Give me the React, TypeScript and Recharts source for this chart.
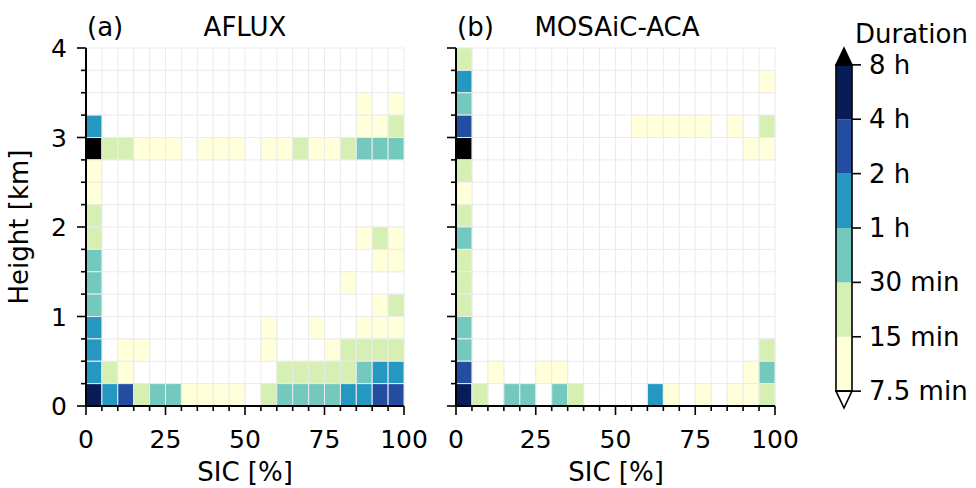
import React from 'react';
import { ComposedChart, XAxis, YAxis, CartesianGrid, ReferenceArea, Scatter } from 'recharts';

// bin edges of the two histograms
const SIC_EDGES = [0, 5, 10, 15, 20, 25, 30, 35, 40, 45, 50, 55, 60, 65, 70, 75, 80, 85, 90, 95, 100];
const HEIGHT_EDGES = [0, 0.25, 0.5, 0.75, 1, 1.25, 1.5, 1.75, 2, 2.25, 2.5, 2.75, 3, 3.25, 3.5, 3.75, 4];
const SIC_LABELS = [0, 25, 50, 75, 100];
const HEIGHT_LABELS = [0, 1, 2, 3, 4];

const DURATION_LABELS = ['7.5 min', '15 min', '30 min', '1 h', '2 h', '4 h', '8 h'];
const DURATION_COLORS = ['#ffffd9', '#d6efb3', '#73c9bd', '#2498c1', '#234da0', '#081d58'];
const OVER_COLOR = '#000000';
const UNDER_COLOR = '#ffffff';

// duration class of every cell, top row = 3.75-4 km, bottom row = 0-0.25 km, columns = 5 % SIC bins
// 0 nothing, 1 7.5-15 min, 2 15-30 min, 3 30 min-1 h, 4 1-2 h, 5 2-4 h, 6 4-8 h, 7 > 8 h
const AFLUX_ROWS = [
  '00000000000000000000',
  '00000000000000000000',
  '00000000000000000101',
  '40000000000000000112',
  '72211101110112112333',
  '10000000000000000000',
  '10000000000000000000',
  '20000000000000000000',
  '20000000000000000121',
  '30000000000000000011',
  '30000000000000001000',
  '30000000000000000012',
  '40000000000100100111',
  '40110000000100012222',
  '42100000000022222344',
  '64523311110233334455',
];

const MOSAIC_ROWS = [
  '20000000000000000000',
  '40000000000000000001',
  '30000000000000000000',
  '50000000000111110102',
  '70000000000000000011',
  '20000000000000000000',
  '10000000000000000000',
  '20000000000000000000',
  '30000000000000000000',
  '20000000000000000000',
  '20000000000000000000',
  '20000000000000000000',
  '30000000000000000000',
  '30000000000000000002',
  '50100110000000000013',
  '62033032000041010112',
];

const FONT = '"DejaVu Sans", sans-serif';

const levelColor = (level: number) => (level > DURATION_COLORS.length ? OVER_COLOR : DURATION_COLORS[level - 1]);

const toCells = (rows: string[]) => {
  const cells: { x1: number; x2: number; y1: number; y2: number; x: number; y: number; level: number }[] = [];
  const n = rows.length;
  rows.forEach((row, i) => {
    const hb = n - 1 - i;
    row.split('').forEach((ch, c) => {
      const level = Number(ch);
      if (!level) return;
      const x1 = SIC_EDGES[c];
      const x2 = SIC_EDGES[c + 1];
      const y1 = HEIGHT_EDGES[hb];
      const y2 = HEIGHT_EDGES[hb + 1];
      cells.push({ x1, x2, y1, y2, x: (x1 + x2) / 2, y: (y1 + y2) / 2, level });
    });
  });
  return cells;
};

const XTick = (props: any) => {
  const { x, y, payload } = props;
  const major = SIC_LABELS.includes(payload.value);
  return (
    <g>
      <line x1={x} x2={x} y1={y} y2={y + (major ? 9 : 5)} stroke="#000" strokeWidth={1.6} />
      {major && (
        <text x={x} y={y + 42} textAnchor="middle" fontSize={25} fontFamily={FONT} fill="#000">
          {payload.value}
        </text>
      )}
    </g>
  );
};

const makeYTick = (showLabels: boolean) => (props: any) => {
  const { x, y, payload } = props;
  const major = HEIGHT_LABELS.includes(payload.value);
  return (
    <g>
      <line x1={x} x2={x - (major ? 9 : 5)} y1={y} y2={y} stroke="#000" strokeWidth={1.6} />
      {major && showLabels && (
        <text x={x - 19} y={y + 9} textAnchor="end" fontSize={25} fontFamily={FONT} fill="#000">
          {payload.value}
        </text>
      )}
    </g>
  );
};

interface PanelProps {
  rows: string[];
  width: number;
  yAxisWidth: number;
  rightMargin: number;
  showYLabels: boolean;
}

const HeatPanel = ({ rows, width, yAxisWidth, rightMargin, showYLabels }: PanelProps) => {
  const cells = toCells(rows);
  return (
    <ComposedChart width={width} height={488} margin={{ top: 48, right: rightMargin, bottom: 22, left: 0 }}>
      <CartesianGrid stroke="#ebebeb" strokeWidth={1} />
      <XAxis
        type="number"
        dataKey="x"
        domain={[0, 100]}
        ticks={SIC_EDGES}
        interval={0}
        height={60}
        tickSize={0}
        tickMargin={0}
        tickLine={false}
        tick={XTick}
        axisLine={{ stroke: '#000', strokeWidth: 2 }}
        allowDataOverflow
      />
      <YAxis
        type="number"
        dataKey="y"
        domain={[0, 4]}
        ticks={HEIGHT_EDGES}
        interval={0}
        width={yAxisWidth}
        tickSize={0}
        tickMargin={0}
        tickLine={false}
        tick={makeYTick(showYLabels)}
        axisLine={{ stroke: '#000', strokeWidth: 2 }}
        allowDataOverflow
      />
      {cells.map((c, i) => (
        <ReferenceArea
          key={i}
          x1={c.x1}
          x2={c.x2}
          y1={c.y1}
          y2={c.y2}
          fill={levelColor(c.level)}
          fillOpacity={1}
          stroke="#ebebeb"
          strokeWidth={1}
          ifOverflow="visible"
        />
      ))}
      <Scatter data={cells} fill="none" shape={() => <g />} isAnimationActive={false} />
    </ComposedChart>
  );
};

const BAND_CENTERS = DURATION_COLORS.map((_, i) => ({ x: 0.5, y: i + 0.5 }));

const ColorBarTick = (props: any) => {
  const { x, y, payload } = props;
  return (
    <g>
      <line x1={x} x2={x + 9} y1={y} y2={y} stroke="#000" strokeWidth={1.6} />
      <text x={x + 17} y={y + 9} textAnchor="start" fontSize={26} fontFamily={FONT} fill="#000">
        {DURATION_LABELS[payload.value]}
      </text>
    </g>
  );
};

const ColorBar = () => (
  <ComposedChart width={156} height={488} margin={{ top: 48, right: 0, bottom: 80, left: 16 }}>
    <XAxis type="number" dataKey="x" domain={[0, 1]} hide />
    <YAxis
      type="number"
      dataKey="y"
      orientation="right"
      domain={[-0.31, DURATION_COLORS.length + 0.31]}
      ticks={DURATION_LABELS.map((_, i) => i)}
      interval={0}
      width={124}
      tickSize={0}
      tickMargin={0}
      tickLine={false}
      axisLine={false}
      tick={ColorBarTick}
      allowDataOverflow
    />
    {DURATION_COLORS.map((col, i) => (
      <ReferenceArea key={col} x1={0} x2={1} y1={i} y2={i + 1} fill={col} fillOpacity={1} stroke="none" />
    ))}
    <ReferenceArea x1={0} x2={1} y1={0} y2={DURATION_COLORS.length} fill="none" stroke="#000" strokeWidth={1.6} />
    <ReferenceArea
      x1={0}
      x2={1}
      y1={DURATION_COLORS.length}
      y2={DURATION_COLORS.length + 0.31}
      shape={(p: any) => (
        <polygon
          points={`${p.x},${p.y + p.height} ${p.x + p.width / 2},${p.y} ${p.x + p.width},${p.y + p.height}`}
          fill={OVER_COLOR}
          stroke="#000"
          strokeWidth={1.6}
        />
      )}
    />
    <ReferenceArea
      x1={0}
      x2={1}
      y1={-0.31}
      y2={0}
      shape={(p: any) => (
        <polygon
          points={`${p.x},${p.y} ${p.x + p.width / 2},${p.y + p.height} ${p.x + p.width},${p.y}`}
          fill={UNDER_COLOR}
          stroke="#000"
          strokeWidth={1.6}
        />
      )}
    />
    <Scatter data={BAND_CENTERS} fill="none" shape={() => <g />} isAnimationActive={false} />
  </ComposedChart>
);

const App = () => (
  <div style={{ position: 'absolute', left: 0, top: 0, width: 976, height: 488, background: '#fff', overflow: 'hidden' }}>
    <div style={{ position: 'absolute', left: 0, top: 0 }}>
      <HeatPanel rows={AFLUX_ROWS} width={450} yAxisWidth={86} rightMargin={46} showYLabels />
    </div>
    <div style={{ position: 'absolute', left: 420, top: 0 }}>
      <HeatPanel rows={MOSAIC_ROWS} width={400} yAxisWidth={36} rightMargin={45} showYLabels={false} />
    </div>
    <div style={{ position: 'absolute', left: 820, top: 0 }}>
      <ColorBar />
    </div>
    <svg
      width={976}
      height={488}
      style={{ position: 'absolute', left: 0, top: 0, pointerEvents: 'none' }}
      fontFamily={FONT}
      fill="#000"
    >
      <text x={87} y={36} fontSize={26}>(a)</text>
      <text x={245} y={36} fontSize={26} textAnchor="middle">AFLUX</text>
      <text x={457} y={36} fontSize={26}>(b)</text>
      <text x={617} y={36} fontSize={26} textAnchor="middle">MOSAiC-ACA</text>
      <text x={245} y={481} fontSize={26} textAnchor="middle">SIC [%]</text>
      <text x={616} y={481} fontSize={26} textAnchor="middle">SIC [%]</text>
      <text x={28} y={227} fontSize={26} textAnchor="middle" transform="rotate(-90 28 227)">Height [km]</text>
      <text x={855} y={43} fontSize={26}>Duration</text>
    </svg>
  </div>
);

export default App;
